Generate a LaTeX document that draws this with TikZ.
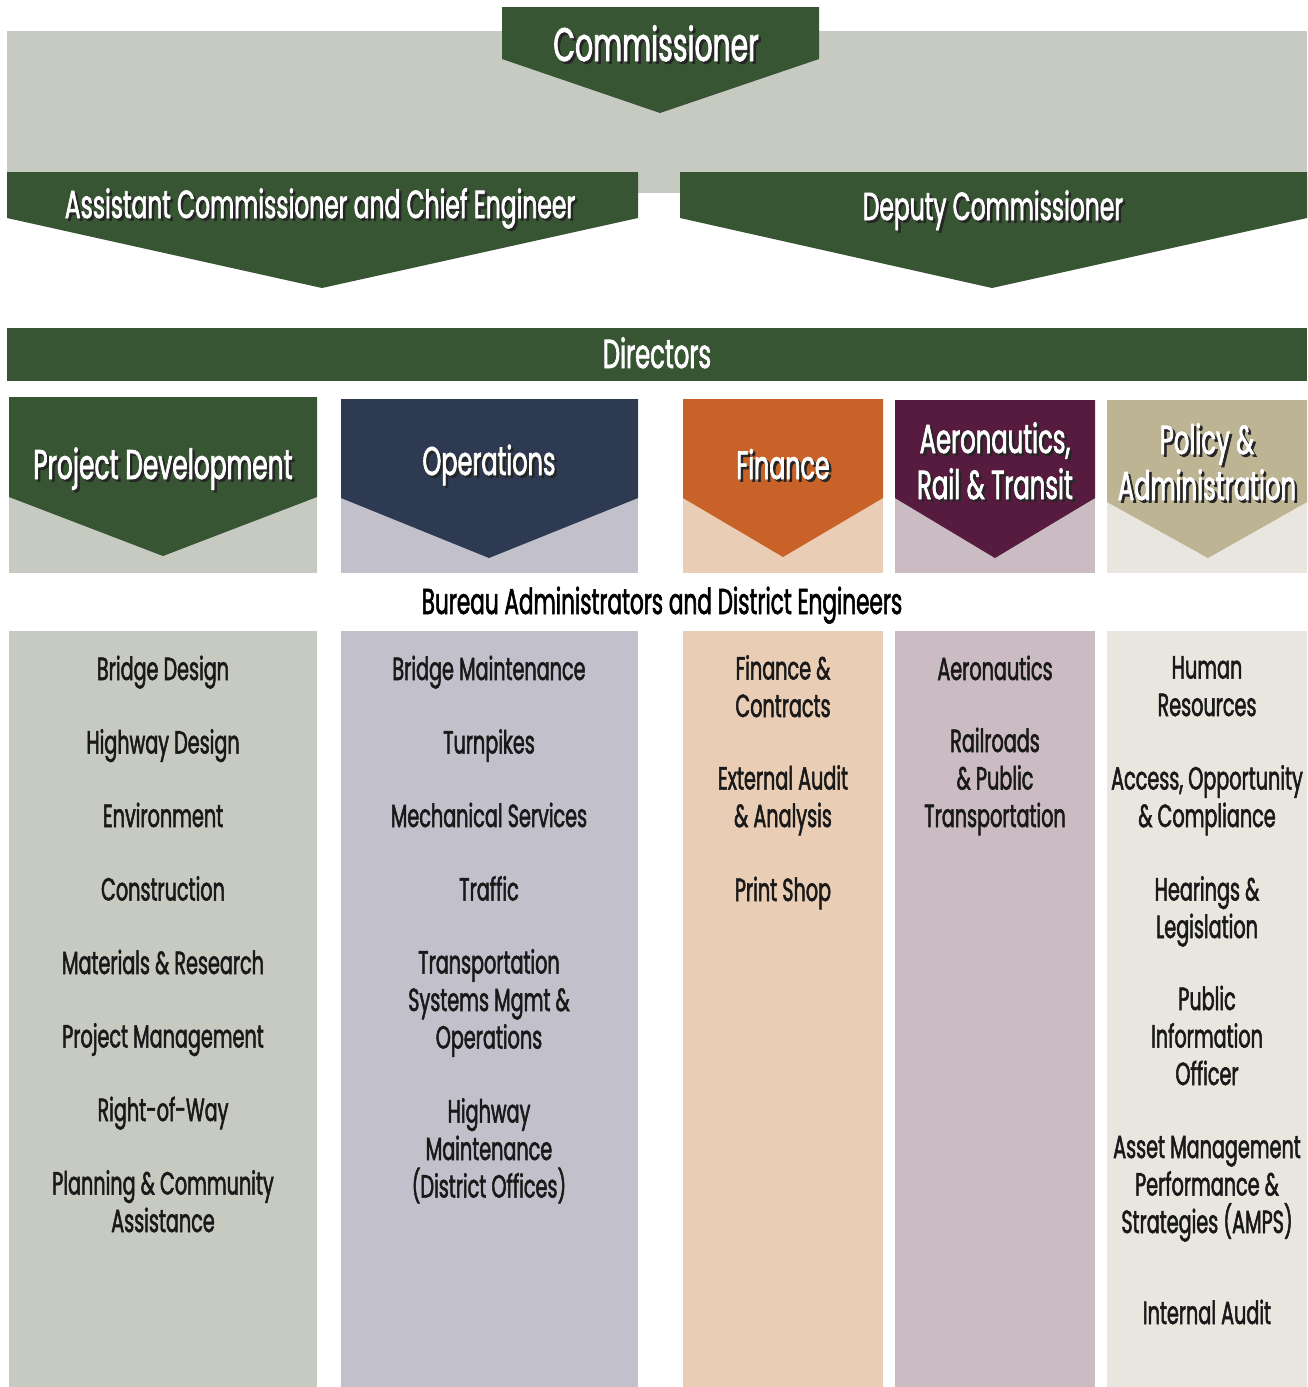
\documentclass[tikz,border=0pt]{standalone}
\usepackage{fontspec}
\setmainfont{Poppins}[FakeStretch=0.60, FakeBold=1.6]
\usetikzlibrary{positioning}

\definecolor{dkgreen}{RGB}{56,85,51}
\definecolor{bandgray}{RGB}{199,202,192}
\definecolor{opsnavy}{RGB}{46,58,82}
\definecolor{opslight}{RGB}{194,192,203}
\definecolor{finorange}{RGB}{200,98,40}
\definecolor{finlight}{RGB}{234,205,181}
\definecolor{aeroplum}{RGB}{86,27,63}
\definecolor{aerolight}{RGB}{203,187,195}
\definecolor{poltan}{RGB}{189,180,148}
\definecolor{pollight}{RGB}{232,230,222}
\definecolor{itemink}{RGB}{25,25,25}

\newcommand\shd[1]{\rlap{\hspace*{2.5pt}\raisebox{-2.5pt}{\textcolor{black!85}{#1}}}#1}

\begin{document}
\begin{tikzpicture}[x=1pt, y=-1pt]
    \tikzset{
        head/.style     =   { text=white
                            , align=center
                            , inner sep=0pt
                            , font=\fontsize{40.5}{46}\selectfont
        }
        , item/.style   =   { text=itemink
                            , align=center
                            , inner sep=0pt
                            , font=\fontsize{32}{37.5}\selectfont
        }
    }
    \useasboundingbox (0,0) rectangle (1307,1387);
    \fill[white] (0,0) rectangle (1307,1387);

    % top band and the three chevrons
    \fill[bandgray] (7,31) rectangle (1307,193);
    \fill[dkgreen] (502,7) -- (819,7) -- (819,59) -- (660,113) -- (502,59) -- cycle;
    \fill[dkgreen] (7,172) -- (638,172) -- (638,218) -- (322,288) -- (7,218) -- cycle;
    \fill[dkgreen] (680,172) -- (1307,172) -- (1307,218) -- (992,288) -- (680,218) -- cycle;
    \fill[dkgreen] (7,328) rectangle (1307,381);

    % director columns
    \fill[bandgray]  (9,397) rectangle (317,573);
    \fill[dkgreen]   (9,397) -- (317,397) -- (317,497) -- (163,556) -- (9,497) -- cycle;
    \fill[opslight]  (341,399) rectangle (638,573);
    \fill[opsnavy]   (341,399) -- (638,399) -- (638,498) -- (489,558) -- (341,498) -- cycle;
    \fill[finlight]  (683,399) rectangle (883,573);
    \fill[finorange] (683,399) -- (883,399) -- (883,498) -- (783,557) -- (683,498) -- cycle;
    \fill[aerolight] (895,400) rectangle (1095,573);
    \fill[aeroplum]  (895,400) -- (1095,400) -- (1095,498) -- (995,558) -- (895,498) -- cycle;
    \fill[pollight]  (1107,400) rectangle (1307,573);
    \fill[poltan]    (1107,400) -- (1307,400) -- (1307,502) -- (1208,558) -- (1107,502) -- cycle;

    % bureau columns
    \fill[bandgray]  (9,631) rectangle (317,1387);
    \fill[opslight]  (341,631) rectangle (638,1387);
    \fill[finlight]  (683,631) rectangle (883,1387);
    \fill[aerolight] (895,631) rectangle (1095,1387);
    \fill[pollight]  (1107,631) rectangle (1307,1387);

    % headings
    \node(comm)[head, anchor=base, font=\fontsize{47}{50}\selectfont] at (656,61) {\shd{Commissioner}};
    \node(ace)[head, anchor=base, font=\fontsize{39}{46}\selectfont] at (320,218) {\shd{Assistant Commissioner and Chief Engineer}};
    \node(dep)[head, anchor=base, font=\fontsize{39}{46}\selectfont] at (993,220) {\shd{Deputy Commissioner}};
    \node(dir)[head, anchor=base] at (657,368) {Directors};
    \node(pd)[head, anchor=base, font=\fontsize{41.5}{46}\selectfont] at (163,479) {\shd{Project Development}};
    \node(ops)[head, anchor=base, font=\fontsize{40}{46}\selectfont] at (489,475) {\shd{Operations}};
    \node(fin)[head, anchor=base, font=\fontsize{39.5}{46}\selectfont] at (783,479) {\shd{Finance}};
    \node(aero)[head, anchor=base] at (995,499) {\shd{Aeronautics,}\\\shd{Rail \& Transit}};
    \node(pol)[head, anchor=base] at (1207,500) {\shd{Policy \&}\\\shd{Administration}};
    \node(bur)[item, anchor=base, text=black, font=\fontsize{36}{40}\selectfont] at (662,614)
        {Bureau Administrators and District Engineers};

    % project development
    \node(pd1)[item, anchor=base] at (163,680) {Bridge Design};
    \node(pd2)[item, below=73.5pt of pd1.base, anchor=base] {Highway Design};
    \node(pd3)[item, below=73.5pt of pd2.base, anchor=base] {Environment};
    \node(pd4)[item, below=73.5pt of pd3.base, anchor=base] {Construction};
    \node(pd5)[item, below=73.5pt of pd4.base, anchor=base] {Materials \& Research};
    \node(pd6)[item, below=73.5pt of pd5.base, anchor=base] {Project Management};
    \node(pd7)[item, below=73.5pt of pd6.base, anchor=base] {Right-of-Way};
    \node(pd8)[item, below=111pt of pd7.base, anchor=base] {Planning \& Community\\Assistance};

    % operations
    \node(ops1)[item, anchor=base] at (489,680) {Bridge Maintenance};
    \node(ops2)[item, below=73.5pt of ops1.base, anchor=base] {Turnpikes};
    \node(ops3)[item, below=73.5pt of ops2.base, anchor=base] {Mechanical Services};
    \node(ops4)[item, below=73.5pt of ops3.base, anchor=base] {Traffic};
    \node(ops5)[item, below=148pt of ops4.base, anchor=base] {Transportation\\Systems Mgmt \&\\Operations};
    \node(ops6)[item, below=149pt of ops5.base, anchor=base] {Highway\\Maintenance\\(District Offices)};

    % finance
    \node(fin1)[item, anchor=base] at (783,717) {Finance \&\\Contracts};
    \node(fin2)[item, below=110pt of fin1.base, anchor=base] {External Audit\\\& Analysis};
    \node(fin3)[item, below=74pt of fin2.base, anchor=base] {Print Shop};

    % aeronautics, rail and transit
    \node(aero1)[item, anchor=base] at (995,680) {Aeronautics};
    \node(aero2)[item, below=147pt of aero1.base, anchor=base] {Railroads\\\& Public\\Transportation};

    % policy and administration
    \node(pol1)[item, anchor=base] at (1207,716) {Human\\Resources};
    \node(pol2)[item, below=111pt of pol1.base, anchor=base] {Access, Opportunity\\\& Compliance};
    \node(pol3)[item, below=111pt of pol2.base, anchor=base] {Hearings \&\\Legislation};
    \node(pol4)[item, below=147pt of pol3.base, anchor=base] {Public\\Information\\Officer};
    \node(pol5)[item, below=148pt of pol4.base, anchor=base] {Asset Management\\Performance \&\\Strategies (AMPS)};
    \node(pol6)[item, below=91pt of pol5.base, anchor=base] {Internal Audit};
\end{tikzpicture}
\end{document}
